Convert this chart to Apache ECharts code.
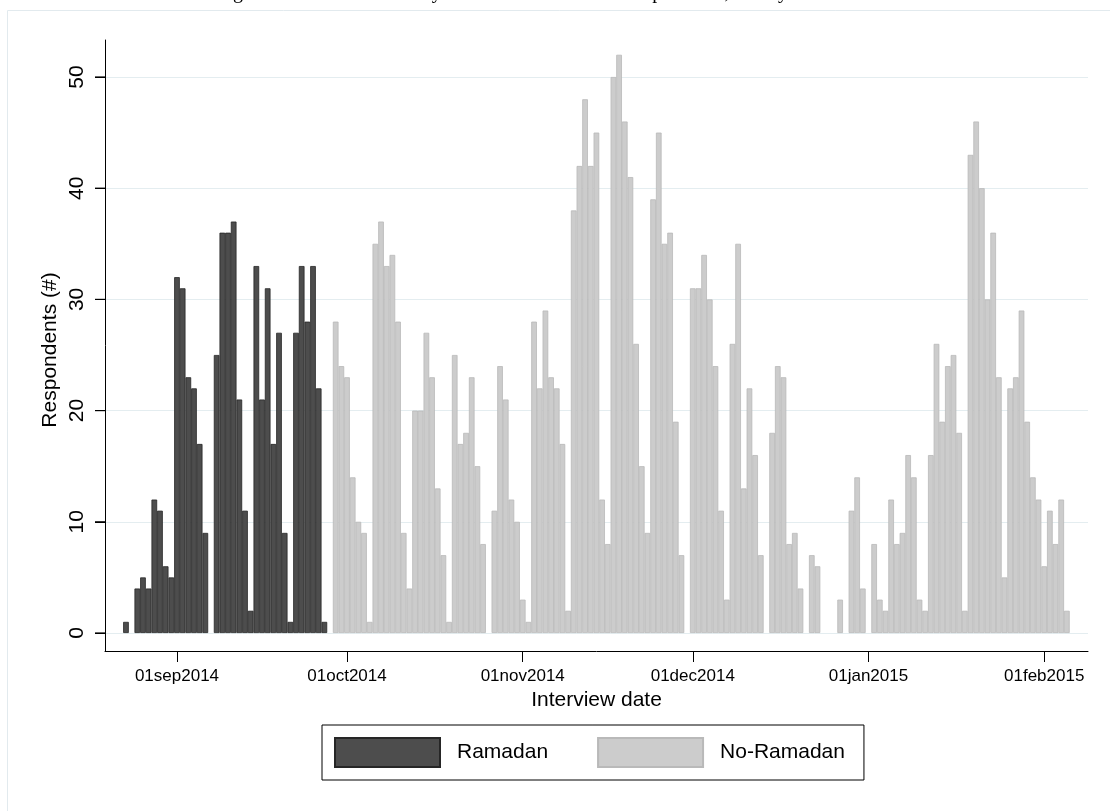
<!DOCTYPE html>
<html>
<head>
<meta charset="utf-8">
<script src="https://cdn.jsdelivr.net/npm/echarts@6/dist/echarts.min.js"></script>
<style>
  html, body { margin: 0; padding: 0; background: #ffffff; }
  #chart { width: 1110px; height: 811px; }
</style>
</head>
<body>
<div id="chart"></div>
<script>
// ---- data (daily respondent counts) ----
const ramadanStart = '2014-08-23';
const ramadanCounts = [
  1, 0, 4, 5, 4, 12, 11, 6, 5,
  32, 31, 23, 22, 17, 9, 0, 25, 36, 36,
  37, 21, 11, 2, 33, 21, 31, 17, 27, 9,
  1, 27, 33, 28, 33, 22, 1
];
const noRamadanStart = '2014-09-29';
const noRamadanCounts = [
  28, 24,
  23, 14, 10, 9, 1, 35, 37, 33, 34, 28,
  9, 4, 20, 20, 27, 23, 13, 7, 1, 25,
  17, 18, 23, 15, 8, 0, 11, 24, 21, 12,
  10,
  3, 1, 28, 22, 29, 23, 22, 17, 2, 38,
  42, 48, 42, 45, 12, 8, 50, 52, 46, 41,
  26, 15, 9, 39, 45, 35, 36, 19, 7, 0,
  31, 31, 34, 30, 24, 11, 3, 26, 35, 13,
  22, 16, 7, 0, 18, 24, 23, 8, 9, 4,
  0, 7, 6, 0, 0, 0, 3, 0, 11, 14,
  4,
  0, 8, 3, 2, 12, 8, 9, 16, 14, 3,
  2, 16, 26, 19, 24, 25, 18, 2, 43, 46,
  40, 30, 36, 23, 5, 22, 23, 29, 19, 14,
  12,
  6, 11, 8, 12, 2
];
const tickDates = ['2014-09-01', '2014-10-01', '2014-11-01', '2014-12-01', '2015-01-01', '2015-02-01'];
const tickLabels = ['01sep2014', '01oct2014', '01nov2014', '01dec2014', '01jan2015', '01feb2015'];
const yTicks = [0, 10, 20, 30, 40, 50];
const seriesNames = ['Ramadan', 'No-Ramadan'];

// ---- helpers ----
const DAY = 86400000;
function utc(s) { const p = s.split('-').map(Number); return Date.UTC(p[0], p[1] - 1, p[2]); }
const origin = utc(tickDates[0]);
function dayOffset(s) { return Math.round((utc(s) - origin) / DAY); }
function toPoints(start, counts) {
  const s = dayOffset(start);
  const out = [];
  counts.forEach((v, i) => { if (v > 0) out.push([s + i, v]); });
  return out;
}
const tickOffsets = tickDates.map(dayOffset);
const labelFor = {};
tickOffsets.forEach((o, i) => { labelFor[o] = tickLabels[i]; });

const FONT = 'Liberation Sans, Arial, Helvetica, sans-serif';
// layout: plot frame spans y 40..651, data scale 0..50 spans y 633..77
const pxPerDay = 5.668;
const gridLeft = 105, gridRight = 22;
const plotW = 1110 - gridLeft - gridRight;
const xMin = -12.7;
const xMax = xMin + plotW / pxPerDay;
const pxPerUnit = (633 - 77) / 50;
const frameYMin = -(651 - 633) / pxPerUnit;
const frameYMax = (633 - 40) / pxPerUnit;
const yTickLen = 10;

const chart = echarts.init(document.getElementById('chart'), null, { renderer: 'canvas' });
chart.setOption({
  backgroundColor: '#ffffff',
  animation: false,
  tooltip: { show: false },
  title: {
    text: 'Figure 2: Interview dates by Ramadan status of the respondents, survey wave 2014/2015',
    left: 566,
    textAlign: 'center',
    top: -22,
    textStyle: { fontFamily: 'Liberation Serif, Times New Roman, serif', fontSize: 20, fontWeight: 'normal', color: '#000' }
  },
  graphic: [{
    type: 'rect', silent: true, z: -1,
    shape: { x: 7.5, y: 10.5, width: 1200, height: 900 },
    style: { fill: 'none', stroke: '#e2eaee', lineWidth: 1 }
  }],
  legend: {
    data: seriesNames,
    left: 322, top: 725,
    orient: 'horizontal',
    padding: [12, 19, 12, 12],
    itemWidth: 105, itemHeight: 29, itemGap: 49,
    icon: 'rect',
    borderColor: '#000', borderWidth: 1,
    textStyle: { fontFamily: FONT, fontSize: 21, color: '#000', padding: [0, 0, 0, 12] }
  },
  grid: [
    { left: gridLeft, right: gridRight, top: 40, bottom: 160 },
    { left: gridLeft, right: gridRight, top: 77, bottom: 178 }
  ],
  xAxis: [
    {
      type: 'value', gridIndex: 0, min: xMin, max: xMax,
      name: 'Interview date', nameLocation: 'middle', nameGap: 35,
      nameTextStyle: { fontFamily: FONT, fontSize: 21, color: '#000' },
      axisLine: { show: true, onZero: false, lineStyle: { color: '#000', width: 1 } },
      axisTick: { show: true, length: 11, lineStyle: { color: '#000' }, customValues: tickOffsets },
      axisLabel: { show: true, margin: 17, fontFamily: FONT, fontSize: 17, color: '#000',
        customValues: tickOffsets, formatter: v => labelFor[v] || '' },
      splitLine: { show: false }
    },
    {
      type: 'value', gridIndex: 1, min: xMin, max: xMax,
      axisLine: { show: false, onZero: false },
      axisTick: { show: false }, axisLabel: { show: false },
      splitLine: { show: false }
    }
  ],
  yAxis: [
    {
      type: 'value', gridIndex: 0, min: frameYMin, max: frameYMax,
      axisLine: { show: true, onZero: false, lineStyle: { color: '#000', width: 1 } },
      axisTick: { show: true, length: yTickLen, lineStyle: { color: '#000', width: 1 }, customValues: yTicks },
      axisLabel: { show: true, rotate: 90, margin: 17, fontFamily: FONT, fontSize: 21, color: '#000',
        customValues: yTicks, formatter: v => String(Math.round(v)) },
      splitLine: { show: false }
    },
    {
      type: 'value', gridIndex: 1, min: 0, max: 50, interval: 10,
      name: 'Respondents (#)', nameLocation: 'middle', nameGap: 44,
      nameTextStyle: { fontFamily: FONT, fontSize: 21, color: '#000', padding: [0, 0, 0, 10] },
      axisLine: { show: false, onZero: false },
      axisTick: { show: false },
      axisLabel: { show: false },
      splitLine: { show: true, lineStyle: { color: '#e4edf0', width: 1.2 } }
    }
  ],
  series: [
    {
      name: seriesNames[0], type: 'bar', xAxisIndex: 1, yAxisIndex: 1,
      barWidth: pxPerDay, barGap: '-100%', clip: false,
      itemStyle: { color: '#4d4d4d', borderColor: '#262626', borderWidth: 0.8 },
      data: toPoints(ramadanStart, ramadanCounts)
    },
    {
      name: seriesNames[1], type: 'bar', xAxisIndex: 1, yAxisIndex: 1,
      barWidth: pxPerDay, barGap: '-100%', clip: false,
      itemStyle: { color: '#cccccc', borderColor: '#b9b9b9', borderWidth: 0.8 },
      data: toPoints(noRamadanStart, noRamadanCounts)
    },
    {
      // outward y-axis tick marks at 0..50, placed just left of the axis line
      name: 'yTicks', type: 'scatter', xAxisIndex: 0, yAxisIndex: 0,
      clip: false, silent: true, z: 5,
      symbol: 'rect', symbolSize: [yTickLen, 1.2],
      itemStyle: { color: '#000', opacity: 1 },
      data: yTicks.map(v => [xMin - (yTickLen / 2) / pxPerDay, v])
    }
  ]
});
</script>
</body>
</html>
